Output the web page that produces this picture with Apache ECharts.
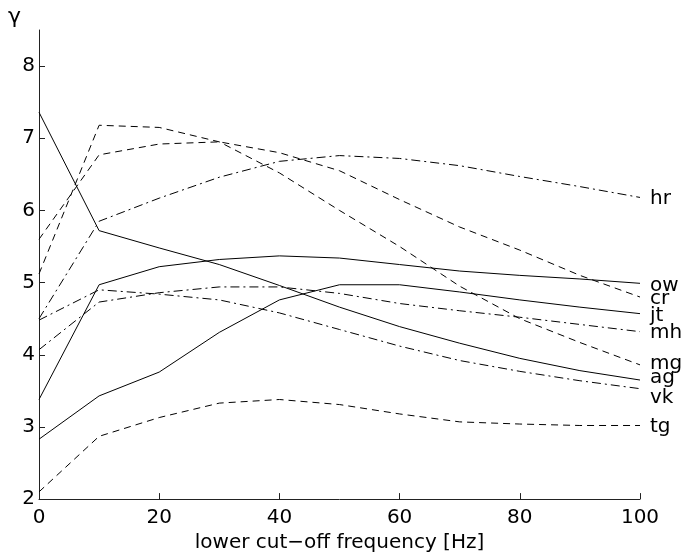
<!DOCTYPE html>
<html>
<head>
<meta charset="utf-8">
<script src="https://cdn.jsdelivr.net/npm/echarts@6.0.0/dist/echarts.min.js"></script>
<style>
html,body{margin:0;padding:0;background:#fff;}
#chart{width:685px;height:558px;}
</style>
</head>
<body>
<div id="chart"></div>
<script>
// ---- data ----
const freq = [0, 10, 20, 30, 40, 50, 60, 70, 80, 90, 100];
const xTicks = [0, 20, 40, 60, 80, 100];
const yTicks = [2, 3, 4, 5, 6, 7, 8];
const seriesNames = ['hr', 'ow', 'cr', 'jt', 'mh', 'mg', 'ag', 'vk', 'tg'];
const hr = [4.50, 5.85, 6.17, 6.46, 6.68, 6.76, 6.72, 6.62, 6.47, 6.33, 6.18];
const ow = [3.38, 4.97, 5.22, 5.32, 5.37, 5.34, 5.25, 5.16, 5.10, 5.05, 4.99];
const cr = [5.60, 6.77, 6.92, 6.95, 6.80, 6.55, 6.15, 5.77, 5.45, 5.10, 4.80];
const jt = [2.83, 3.43, 3.76, 4.31, 4.76, 4.97, 4.97, 4.87, 4.76, 4.66, 4.57];
const mh = [4.07, 4.73, 4.86, 4.94, 4.94, 4.85, 4.71, 4.61, 4.52, 4.42, 4.32];
const mg = [5.12, 7.18, 7.15, 6.95, 6.52, 6.00, 5.50, 4.95, 4.50, 4.17, 3.86];
const ag = [7.36, 5.72, 5.48, 5.25, 4.96, 4.66, 4.39, 4.16, 3.95, 3.78, 3.65];
const vk = [4.48, 4.90, 4.84, 4.76, 4.58, 4.35, 4.12, 3.92, 3.77, 3.64, 3.53];
const tg = [2.10, 2.87, 3.13, 3.33, 3.38, 3.31, 3.18, 3.07, 3.04, 3.02, 3.02];
const values = { hr, ow, cr, jt, mh, mg, ag, vk, tg };

// ---- styles ----
const FONT = 'DejaVu Sans';
const SOLID = 'solid', DASHED = [7, 5], DASHDOT = [9, 4, 2, 4];
const lineStyles = { hr: DASHDOT, ow: SOLID, cr: DASHED, jt: SOLID, mh: DASHDOT,
                     mg: DASHED, ag: SOLID, vk: DASHDOT, tg: DASHED };
const labelDy = { hr: 1, ow: 2, cr: 1.5, jt: 2, mh: 1.5, mg: -1.5, ag: -2.5, vk: 9, tg: 1 };

const series = seriesNames.map(name => ({
  name: name,
  type: 'line',
  data: freq.map((f, i) => [f, values[name][i]]),
  symbol: 'none',
  silent: true,
  lineStyle: { color: '#000', width: 1, type: lineStyles[name] },
  endLabel: {
    show: true,
    formatter: name,
    distance: 10,
    offset: [0, labelDy[name]],
    color: '#000',
    fontFamily: FONT,
    fontSize: 20
  }
}));

const chart = echarts.init(document.getElementById('chart'), null, { renderer: 'canvas' });
chart.setOption({
  animation: false,
  backgroundColor: '#fff',
  title: {
    text: 'γ',
    left: 8,
    top: 6,
    padding: 0,
    textStyle: { fontFamily: FONT, fontSize: 22, fontWeight: 'normal', color: '#000' }
  },
  grid: { left: 39, right: 45, top: 30, bottom: 54 },
  xAxis: {
    type: 'value',
    min: 0, max: 100, interval: 20,
    name: 'lower cut\u2212off frequency [Hz]',
    nameLocation: 'middle',
    nameGap: 32,
    nameTextStyle: { fontFamily: FONT, fontSize: 20, color: '#000' },
    axisLine: { show: true, onZero: false, lineStyle: { color: '#222', width: 1 } },
    axisTick: { show: true, inside: true, length: 6, customValues: xTicks, lineStyle: { color: '#222' } },
    axisLabel: { customValues: xTicks, margin: 9, fontFamily: FONT, fontSize: 20, color: '#000' },
    splitLine: { show: false }
  },
  yAxis: {
    type: 'value',
    min: 2, max: 8.5, interval: 1,
    axisLine: { show: true, onZero: false, lineStyle: { color: '#222', width: 1 } },
    axisTick: { show: true, inside: true, length: 6, customValues: yTicks, lineStyle: { color: '#222' } },
    axisLabel: { customValues: yTicks, margin: 4, fontFamily: FONT, fontSize: 20, color: '#000' },
    splitLine: { show: false }
  },
  series: series
});
</script>
</body>
</html>
